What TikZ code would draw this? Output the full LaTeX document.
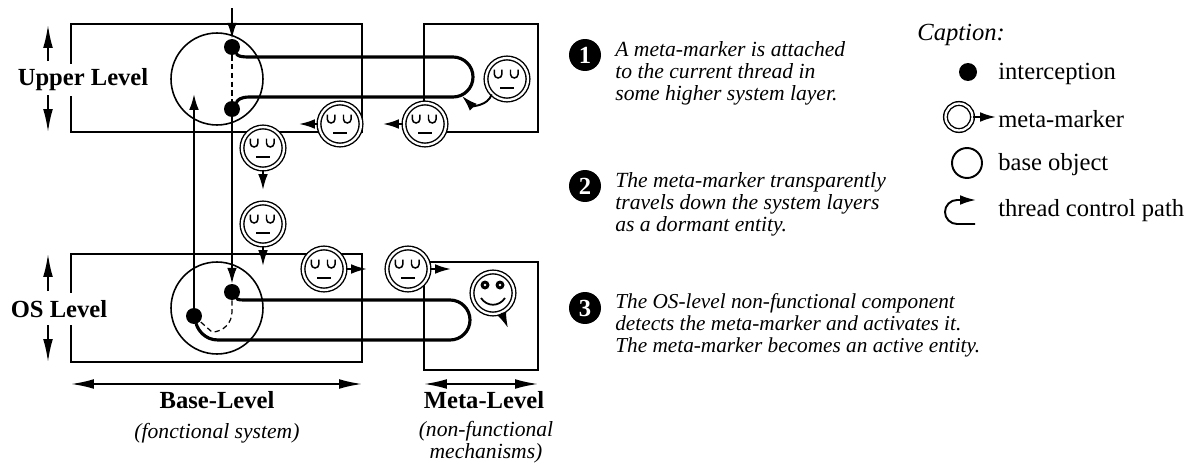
\documentclass[tikz,border=0pt]{standalone}
\usepackage{fontspec}
\setmainfont{Liberation Serif}
\usetikzlibrary{arrows.meta,positioning}
\tikzset{%
	levelbox/.style = {draw, line width=0.7pt},
	headlabel/.style= {fill=white, inner sep=3pt, minimum height=0.66cm, font=\fontsize{14}{14}\selectfont\bfseries},
	note/.style     = {align=left, anchor=west, inner sep=0pt, font=\fontsize{12.3}{12.5}\selectfont\itshape},
	notesub/.style  = {align=center, inner sep=0pt, font=\fontsize{12.3}{12.5}\selectfont\itshape},
	legend/.style   = {anchor=west, inner sep=0pt, font=\fontsize{14}{14}\selectfont},
	numdot/.style   = {circle, fill=black, text=white, minimum size=0.64cm, inner sep=0pt, font=\fontsize{14}{14}\selectfont\bfseries},
	hook/.style     = {circle, fill=black, minimum size=0.32cm, inner sep=0pt},
	baseobj/.style  = {circle, draw, line width=0.9pt, minimum size=1.84cm, inner sep=0pt},
	marker/.style   = {circle, draw, double, fill=white, line width=0.8pt, double distance=1.3pt, minimum size=0.84cm, inner sep=0pt},
	dormant/.pic    = {
		\node[marker] (-shell) {};
		\draw[line width=0.85pt] (-12.7,-9.5) -- (-12.7,-4.8) arc[start angle=180,end angle=0,radius=3.8] -- (-5.1,-9.5);
		\draw[line width=0.85pt] (3.5,-9.5) -- (3.5,-4.8) arc[start angle=180,end angle=0,radius=3.8] -- (11.1,-9.5);
		\draw[line width=1.1pt] (-7,9) -- (7,9);
	},
	awake/.pic      = {
		\node[marker] (-shell) {};
		\fill (-8,-8) circle[radius=4.5];
		\fill (7,-8) circle[radius=4.5];
		\fill[white] (-8,-8) circle[radius=1.3];
		\fill[white] (7,-8) circle[radius=1.3];
		\draw[line width=1pt] (-12,5) .. controls (-6,14) and (6,14) .. (12,5);
	},
	arrow/.style    = {line width=1.1pt, -{Latex[length=9pt,width=5.5pt]}},
	tallarrow/.style= {line width=1pt, -{Latex[length=13pt,width=5.5pt]}},
	twoway/.style   = {line width=1pt, {Latex[length=13pt,width=5.5pt]}-{Latex[length=13pt,width=5.5pt]}},
	thread/.style   = {line width=1.8pt, line cap=round},
}

\begin{document}
\begin{tikzpicture}[x=0.02cm,y=-0.02cm]
			\useasboundingbox (0,0) rectangle (1188,463);
			% level boxes
			\draw[levelbox] (71,24) rectangle (362,132);
			\draw[levelbox] (424,24) rectangle (538,132);
			\draw[levelbox] (71,254) rectangle (362,362);
			\draw[levelbox] (424,262) rectangle (538,370);
			\node[headlabel] (upperlabel) at (83,80) {Upper Level};
			\node[headlabel] (oslabel) at (59,309) {OS Level};
			\coordinate (uppertop) at (48,25);
			\coordinate (upperbot) at (48,132);
			\coordinate (ostop) at (48,254);
			\coordinate (osbot) at (48,362);
			\draw[tallarrow] (48,61) -- (uppertop);
			\draw[tallarrow] (48,95) -- (upperbot);
			\draw[tallarrow] (48,291) -- (ostop);
			\draw[tallarrow] (48,325) -- (osbot);
			% base objects and interceptions
			\node[baseobj] (upperobj) at (217,79) {};
			\node[baseobj] (osobj) at (217,308) {};
			\node[hook] (hookA) at (232,47) {};
			\node[hook] (hookB) at (232,109) {};
			\node[hook] (hookC) at (232,292) {};
			\node[hook] (hookD) at (194,316) {};
			\coordinate (entry) at (232,8);
			\coordinate (riseend) at (194,94);
			\draw[arrow] (entry) -- (hookA);
			\draw[arrow] (hookB) -- (hookC);
			\draw[arrow] (hookD) -- (riseend);
			\draw[densely dashed,line width=0.7pt] (hookA) -- (hookB);
			\draw[densely dashed,line width=0.7pt] (hookC) -- (232,312) arc[start angle=0,end angle=90,radius=20] -- (hookD);
			% thread paths
			\draw[thread] (hookA) .. controls (238,56) and (240,57) .. (250,57) -- (453,57) arc[start angle=-90,end angle=90,radius=20] -- (250,97) .. controls (240,97) and (238,100) .. (hookB);
			\draw[thread] (hookC) .. controls (238,300) and (240,300) .. (250,300) -- (450,300) arc[start angle=-90,end angle=90,radius=20] -- (218,340) .. controls (205,340) and (198,330) .. (hookD);
			% markers
			\foreach \nm/\pos in {mkA/{507,79},mkB/{425,124},mkC/{340,124},mkD/{263,148},mkE/{263,224},mkF/{324,269},mkG/{408,269}}
				\pic (\nm) at (\pos) {dormant};
			\pic (mkH) at (493,293) {awake};
			\coordinate (endB) at (383,124);
			\coordinate (endC) at (299,124);
			\coordinate (endD) at (263,190);
			\coordinate (endE) at (263,266);
			\coordinate (endF) at (367,269);
			\coordinate (endG) at (451,269);
			\coordinate (endH) at (508,328);
			\coordinate (endA) at (462,96);
			\draw[arrow] (mkA-shell.south west) .. controls (488,106) and (472,106) .. (endA);
			\draw[arrow] (mkB-shell) -- (endB);
			\draw[arrow] (mkC-shell) -- (endC);
			\draw[arrow] (mkD-shell) -- (endD);
			\draw[arrow] (mkE-shell) -- (endE);
			\draw[arrow] (mkF-shell) -- (endF);
			\draw[arrow] (mkG-shell) -- (endG);
			\draw[arrow] (mkH-shell) -- (endH);
			% bottom labels
			\coordinate (baseL) at (71,384);
			\coordinate (baseR) at (362,384);
			\coordinate (metaL) at (424,384);
			\coordinate (metaR) at (538,384);
			\draw[twoway] (baseL) -- (baseR);
			\draw[twoway] (metaL) -- (metaR);
			\node[headlabel,fill=none,inner sep=0pt] (baselabel) at (217,400) {Base-Level};
			\node[headlabel,fill=none,inner sep=0pt] (metalabel) at (484,400) {Meta-Level};
			\node[notesub] (basesub) at (217,433) {(fonctional system)};
			\node[notesub] (metasub) at (486,442) {(non-functional\\mechanisms)};
			% steps
			\node[numdot] (stepA) at (585,55) {1};
			\node[numdot] (stepB) at (585,186) {2};
			\node[numdot] (stepC) at (585,308) {3};
			\node[note] (noteA) at (615,73) {A meta-marker is attached\\to the current thread in\\some higher system layer.};
			\node[note] (noteB) at (615,204) {The meta-marker transparently\\travels down the system layers\\as a dormant entity.};
			\node[note,font=\fontsize{12.1}{12.5}\selectfont\itshape] (noteC) at (615,325) {The OS-level non-functional component\\detects the meta-marker and activates it.\\The meta-marker becomes an active entity.};
			% caption
			\node[legend,font=\fontsize{14}{14}\selectfont\itshape] (captitle) at (917,35) {Caption:};
			\node[legend] (lgA) at (998,74) {interception};
			\node[legend] (lgB) at (998,119) {meta-marker};
			\node[legend] (lgC) at (998,165) {base object};
			\node[legend] (lgD) at (998,211) {thread control path};
			\node[hook,minimum size=0.36cm] (lgdot) at (968,72) {};
			\node[marker,minimum size=0.54cm] (lgmark) at (959,117) {};
			\node[baseobj,line width=1.1pt,minimum size=0.6cm] (lgobj) at (967,163) {};
			\coordinate (lgmarkend) at (996,117);
			\draw[arrow] (lgmark) -- (lgmarkend);
			\coordinate (lgpathA) at (975,224);
			\coordinate (lgpathB) at (976,200);
			\draw[arrow] (lgpathA) -- (957,224) arc[start angle=90,end angle=270,radius=12] -- (lgpathB);
\end{tikzpicture}
\end{document}
